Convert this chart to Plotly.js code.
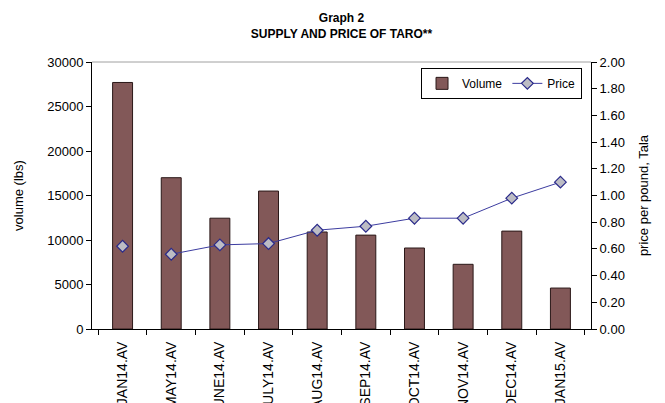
<!DOCTYPE html>
<html>
<head>
<meta charset="utf-8">
<script src="https://cdn.plot.ly/plotly-3.0.1.min.js"></script>
<style>html,body{margin:0;padding:0;background:#fff;}#chart{width:665px;height:403px;}</style>
</head>
<body>
<div id="chart"></div>
<script>
const categories = ["JAN14.AV","MAY14.AV","JUNE14.AV","JULY14.AV","AUG14.AV","SEP14.AV","OCT14.AV","NOV14.AV","DEC14.AV","JAN15.AV"];
const volume = [27700, 17000, 12450, 15500, 10900, 10550, 9100, 7270, 11000, 4600];
const price = [0.62, 0.56, 0.63, 0.64, 0.74, 0.77, 0.83, 0.83, 0.98, 1.10];
const volumeTicks = [0, 5000, 10000, 15000, 20000, 25000, 30000];
const priceTicks = [0, 0.2, 0.4, 0.6, 0.8, 1.0, 1.2, 1.4, 1.6, 1.8, 2.0];

const font = "Liberation Sans, Arial, sans-serif";
const markerStyle = {symbol: "diamond", size: 9, color: "#bcbcc4", line: {color: "#2a2a8a", width: 1.2}};

const traces = [
  {
    type: "bar", name: "Volume", x: categories, y: volume,
    marker: {color: "#825858", line: {color: "#2a1818", width: 1}},
    yaxis: "y"
  },
  {
    type: "scatter", mode: "lines+markers", name: "Price",
    x: categories.slice(1), y: price.slice(1),
    line: {color: "#3c3ca0", width: 1},
    marker: markerStyle, yaxis: "y2"
  },
  {
    type: "scatter", mode: "markers", name: "Price", showlegend: false,
    x: categories.slice(0, 1), y: price.slice(0, 1),
    marker: markerStyle, yaxis: "y2"
  }
];

const layout = {
  width: 665, height: 403,
  margin: {l: 92, r: 74, t: 62, b: 74},
  paper_bgcolor: "#fff", plot_bgcolor: "#fff",
  font: {family: font, size: 13, color: "#000"},
  showlegend: true,
  bargap: 0.59,
  title: {
    text: "<b>Graph 2</b><br><b>SUPPLY AND PRICE OF TARO**</b>",
    font: {family: font, size: 12, color: "#000"},
    x: 0.5, xref: "paper", xanchor: "center",
    y: 1 - 22 / 403, yref: "container", yanchor: "middle"
  },
  xaxis: {
    type: "category", tickangle: -90, tickson: "boundaries",
    ticks: "outside", ticklen: 5, tickcolor: "#000",
    ticklabelstandoff: 6,
    showline: true, linecolor: "#000", linewidth: 1,
    showgrid: false, zeroline: false, automargin: false,
    tickfont: {family: font, size: 14}
  },
  yaxis: {
    range: [0, 30000], tickvals: volumeTicks, ticktext: volumeTicks.map(String),
    ticks: "outside", ticklen: 5, tickcolor: "#000",
    showline: true, linecolor: "#000", linewidth: 1,
    showgrid: false, zeroline: false, automargin: false,
    title: {text: "volume (lbs)", font: {family: font, size: 13}, standoff: 20}
  },
  yaxis2: {
    overlaying: "y", side: "right", range: [0, 2.0],
    tickvals: priceTicks, ticktext: priceTicks.map(v => v.toFixed(2)),
    ticks: "outside", ticklen: 5, tickcolor: "#000",
    showline: true, linecolor: "#000", linewidth: 1,
    showgrid: false, zeroline: false, automargin: false,
    title: {text: "price per pound, Tala", font: {family: font, size: 13}, standoff: 14}
  },
  legend: {
    orientation: "h", x: 0.982, xanchor: "right", y: 0.978, yanchor: "top",
    bgcolor: "#fff", bordercolor: "#000", borderwidth: 1,
    font: {family: font, size: 12}, itemwidth: 30
  },
  shapes: [{
    type: "line", xref: "paper", yref: "paper", x0: 0, x1: 1, y0: 1, y1: 1,
    line: {color: "#a0a0a0", width: 1}
  }]
};

Plotly.newPlot("chart", traces, layout, {displayModeBar: false, staticPlot: true});
</script>
</body>
</html>
